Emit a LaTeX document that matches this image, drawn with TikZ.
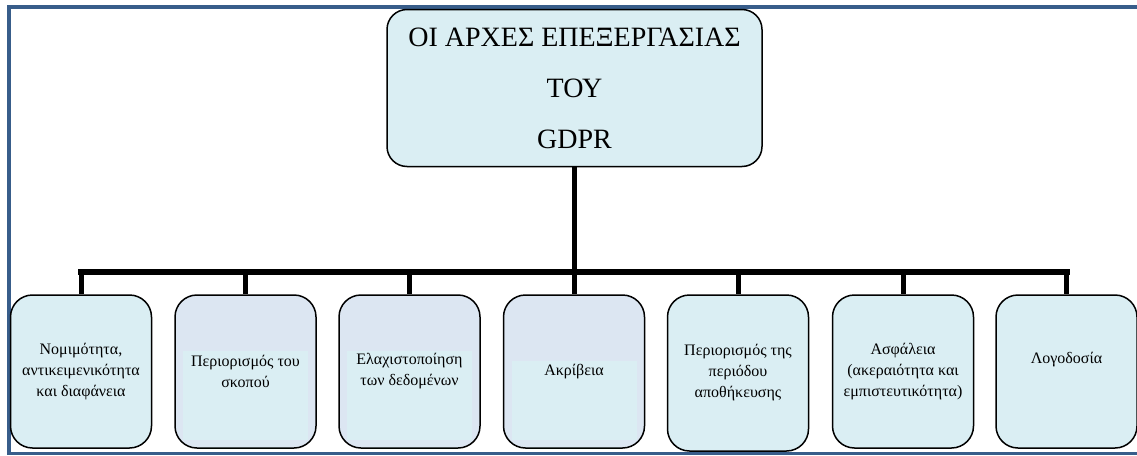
\documentclass[tikz,border=0pt]{standalone}
\usepackage{fontspec}
\setmainfont{Liberation Serif}
\definecolor{framec}{RGB}{56,93,138}
\definecolor{boxa}{RGB}{218,238,243}
\definecolor{boxb}{RGB}{220,230,242}
\begin{document}
\begin{tikzpicture}[x=1pt,y=-1pt,
  topbox/.style={draw=black, line width=1.5pt, fill=boxa, rounded corners=20pt,
    minimum width=375pt, minimum height=157pt, inner sep=0pt, align=center,
    font=\fontsize{28}{51}\selectfont},
  leafbox/.style={draw=black, line width=1.5pt, fill=boxa, rounded corners=22pt,
    minimum width=141pt, minimum height=153pt, inner sep=0pt, align=center,
    font=\fontsize{16}{21}\selectfont},
  leafgrey/.style={leafbox, fill=boxb, path picture={
      \fill[boxa, sharp corners] ([xshift=8pt,yshift=8pt]path picture bounding box.south west)
        rectangle ([xshift=-8pt,yshift=-#1]path picture bounding box.north east);}},
  labeltext/.style={inner sep=0pt, align=center, font=\fontsize{16}{21}\selectfont},
  drop/.style={draw=black, line width=5pt},
  barline/.style={draw=black, line width=6.5pt, line cap=rect}]
\useasboundingbox (0,0) rectangle (1137,455);
\draw[framec, line width=3.5pt] (1160,7) -- (9,7) -- (9,453.5) -- (1160,453.5);
\node[topbox] (top) at (574.5,88) {ΟΙ ΑΡΧΕΣ ΕΠΕΞΕΡΓΑΣΙΑΣ\\ΤΟΥ\\GDPR};
\node[leafbox] (b1) at (81,371.5) {Νομιμότητα,\\αντικειμενικότητα\\και διαφάνεια};
\node[leafgrey=56pt] (b2) at (245.5,371.5) {Περιορισμός του\\σκοπού};
\node[leafgrey=56pt] (b3) at (409.5,371.5) {Ελαχιστοποίηση\\των δεδομένων};
\node[leafgrey=66pt] (b4) at (574,371.5) {Ακρίβεια};
\node[leafbox, minimum height=156pt] (b5) at (738,373) {Περιορισμός της\\περιόδου\\αποθήκευσης};
\node[leafbox] (b6) at (903,371.5) {Ασφάλεια\\(ακεραιότητα και\\εμπιστευτικότητα)};
\node[leafbox] (b7) at (1066.5,371.5) {};
\node[labeltext] (t7) at ([yshift=12pt]b7.center) {Λογοδοσία};
\coordinate (bar) at (574,272);
\draw[drop] (top.south) -- (top.south |- bar);
\draw[barline] (b1.north |- bar) -- (b7.north |- bar);
\foreach \b in {b1,b2,b3,b4,b5,b6,b7}
  \draw[drop] (\b.north |- bar) -- (\b.north);
\end{tikzpicture}
\end{document}
